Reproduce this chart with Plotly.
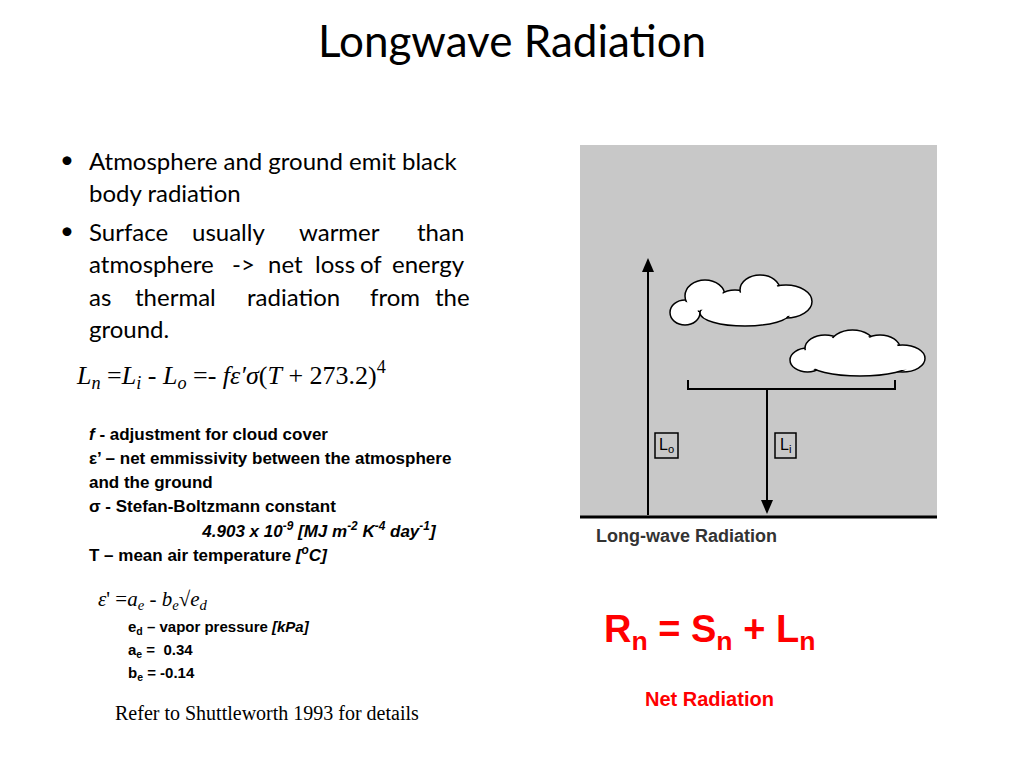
import plotly.graph_objects as go

title = "Longwave Radiation"
bullet_lines = [("•", ["Atmosphere and ground emit black"]),
                ("", ["body radiation"]),
                ("•", ["Surface", "usually", "warmer", "than"]),
                ("", ["atmosphere", "->", "net", "loss", "of", "energy"]),
                ("", ["as", "thermal", "radiation", "from", "the"]),
                ("", ["ground."])]
word_x = [[87], [87], [87, 190, 297, 415], [87, 230, 266, 313, 358, 390], [87, 133, 245, 368, 433], [87]]
bullet_y = [160, 192, 231, 263, 296, 328]
equation = "<i>L<sub>n</sub></i> =<i>L<sub>i</sub></i> - <i>L<sub>o</sub></i> =- <i>fε′σ</i>(<i>T</i> + 273.2)<sup>4</sup>"
defs = ["<i>f</i> - adjustment for cloud cover",
        "ε’ – net emmissivity between the atmosphere",
        "and the ground",
        "σ - Stefan-Boltzmann constant",
        "&nbsp;&nbsp;&nbsp;&nbsp;&nbsp;&nbsp;&nbsp;&nbsp;&nbsp;&nbsp;&nbsp;&nbsp;&nbsp;&nbsp;&nbsp;&nbsp;&nbsp;&nbsp;&nbsp;&nbsp;&nbsp;&nbsp;&nbsp;&nbsp;<i>4.903 x 10<sup>-9</sup> [MJ m<sup>-2</sup> K<sup>-4</sup> day<sup>-1</sup>]</i>",
        "T – mean air temperature <i>[<sup>o</sup>C]</i>"]
emis_eq = "<i>ε</i>' =<i>a<sub>e</sub></i> - <i>b<sub>e</sub></i>√<i>e<sub>d</sub></i>"
emis_defs = ["e<sub>d</sub> – vapor pressure <i>[kPa]</i>", "a<sub>e</sub> =  0.34", "b<sub>e</sub> = -0.14"]
ref = "Refer to Shuttleworth 1993 for details"
rn = "R<sub>n</sub> = S<sub>n</sub> + L<sub>n</sub>"
rn_label = "Net Radiation"
img_caption = "Long-wave Radiation"

fig = go.Figure()
ann = []
def A(x, y, t, size, color="black", family="Liberation Sans", xa="left"):
    ann.append(dict(x=x, y=y, text=t, showarrow=False, xanchor=xa, yanchor="middle",
                    align="left", font=dict(size=size, color=color, family=family)))

A(512, 40, title, 44, family="Lato", xa="center")
for (b, words), xs, y in zip(bullet_lines, word_x, bullet_y):
    if b:
        A(58, y - 2, b, 24, family="Lato")
    for w, x in zip(words, xs):
        A(x, y, w, 24, family="Lato")
A(74, 375, equation, 26, family="Liberation Serif")
for i, d in enumerate(defs):
    A(87, 434 + i * 24, "<b>" + d + "</b>", 17)
A(96, 600, emis_eq, 21, family="Liberation Serif")
for i, d in enumerate(emis_defs):
    A(126, 627 + i * 23, "<b>" + d + "</b>", 15)
A(113, 713, ref, 20, family="Liberation Serif")
A(709, 632, "<b>" + rn + "</b>", 38, color="#ff0000", xa="center")
A(709, 699, "<b>" + rn_label + "</b>", 20, color="#ff0000", xa="center")
A(594, 536, "<b>" + img_caption + "</b>", 18, color="#333333")
A(666, 445, "L<sub>o</sub>", 16, xa="center")
A(785, 445, "L<sub>i</sub>", 16, xa="center")

shapes = [dict(type="rect", x0=580, x1=937, y0=145, y1=517, fillcolor="#c8c8c8", line=dict(width=0)),
          dict(type="line", x0=580, x1=937, y0=517, y1=517, line=dict(color="black", width=3)),
          dict(type="line", x0=648, x1=648, y0=515, y1=268, line=dict(color="black", width=2)),
          dict(type="line", x0=767, x1=767, y0=390, y1=505, line=dict(color="black", width=2)),
          dict(type="path", path="M 642 272 L 648 258 L 654 272 Z", fillcolor="black", line=dict(width=0)),
          dict(type="path", path="M 761 500 L 767 514 L 773 500 Z", fillcolor="black", line=dict(width=0)),
          dict(type="path", path="M 688 380 L 688 389 L 895 389 L 895 380", line=dict(color="black", width=2)),
          dict(type="rect", x0=655, x1=678, y0=433, y1=458, line=dict(color="black", width=1.5)),
          dict(type="rect", x0=775, x1=796, y0=433, y1=458, line=dict(color="black", width=1.5))]
clouds = [(670, 300, 700, 325), (685, 280, 725, 312), (715, 290, 755, 318), (740, 275, 780, 305),
          (760, 285, 812, 318), (700, 300, 790, 326),
          (790, 348, 825, 372), (805, 335, 845, 362), (830, 330, 875, 360), (860, 335, 900, 362),
          (880, 345, 925, 372), (810, 352, 910, 376)]
for x0, y0, x1, y1 in clouds:
    shapes.append(dict(type="circle", x0=x0, x1=x1, y0=y0, y1=y1, fillcolor="white",
                       line=dict(color="black", width=1.5)))
for x0, y0, x1, y1 in clouds:
    shapes.append(dict(type="circle", x0=x0 + 2, x1=x1 - 2, y0=y0 + 2, y1=y1 - 2, fillcolor="white",
                       line=dict(width=0)))

# page body has an 8px margin: shift ranges so coordinates match reference pixels
fig.update_layout(width=1024, height=768, margin=dict(l=0, r=0, t=0, b=0),
                  plot_bgcolor="white", paper_bgcolor="white", annotations=ann, shapes=shapes,
                  xaxis=dict(range=[8, 1032], visible=False, fixedrange=True),
                  yaxis=dict(range=[776, 8], visible=False, fixedrange=True), showlegend=False)
fig.write_html("out.html")
